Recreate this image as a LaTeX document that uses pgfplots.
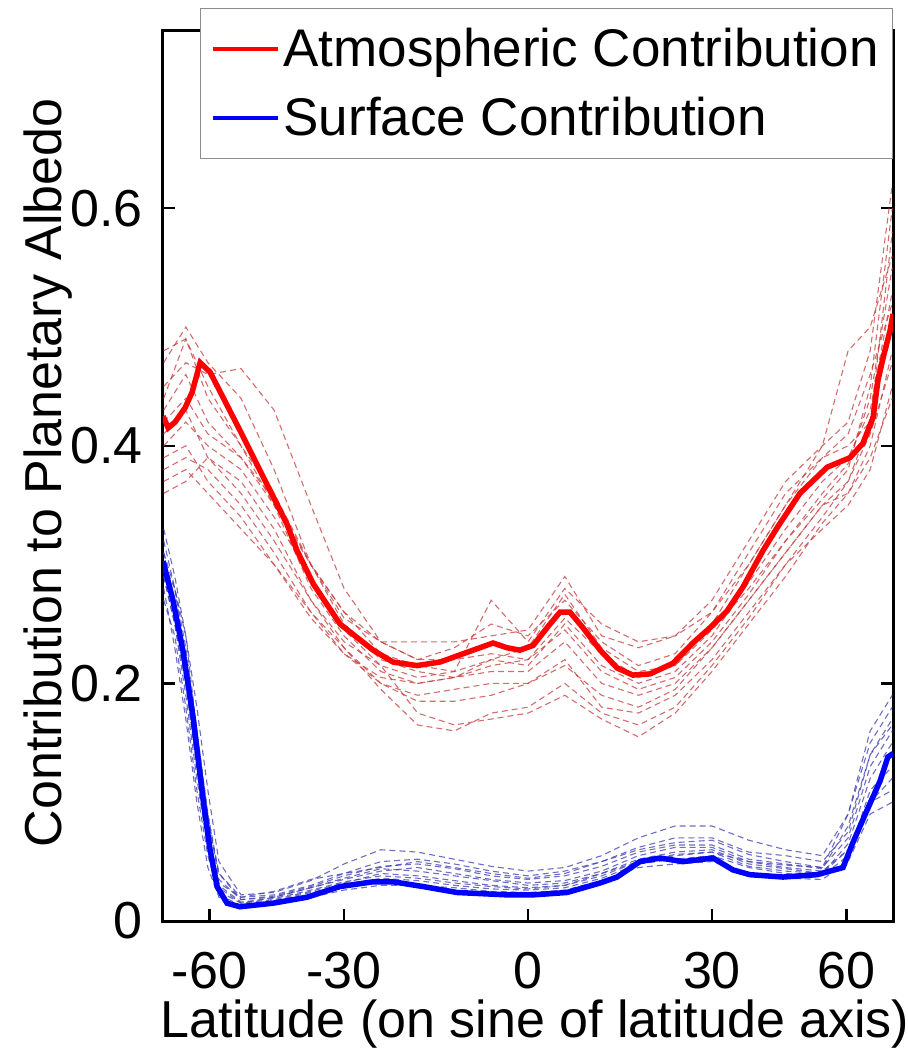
\documentclass[border=0pt]{standalone}
\usepackage{fontspec}
\setmainfont{Liberation Sans}
\usepackage{pgfplots}
\usepackage{pgfplotstable}
\pgfplotsset{compat=1.18}
\definecolor{memred}{RGB}{195,60,60}
\definecolor{memblue}{RGB}{60,60,175}

\pgfplotstableread{
x r1 r2 r3 r4 r5 r6 r7 r8 r9 r10 r11 r12
-0.99 0.47 0.38 0.44 0.40 0.45 0.41 0.36 0.43 0.39 0.42 0.48 0.37
-0.93 0.50 0.39 0.49 0.42 0.47 0.43 0.37 0.46 0.40 0.44 0.49 0.38
-0.87 0.47 0.38 0.45 0.40 0.46 0.39 0.39 0.42 0.37 0.41 0.44 0.36
-0.78 0.44 0.35 0.40 0.38 0.465 0.36 0.37 0.39 0.34 0.39 0.40 0.33
-0.69 0.38 0.31 0.35 0.34 0.43 0.32 0.33 0.35 0.30 0.355 0.36 0.30
-0.59 0.30 0.26 0.28 0.29 0.35 0.27 0.27 0.30 0.255 0.30 0.30 0.26
-0.5 0.255 0.225 0.24 0.245 0.28 0.235 0.23 0.25 0.225 0.26 0.26 0.23
-0.4 0.235 0.20 0.21 0.215 0.235 0.215 0.195 0.22 0.205 0.235 0.225 0.20
-0.3 0.235 0.185 0.20 0.175 0.22 0.205 0.165 0.21 0.20 0.22 0.215 0.19
-0.2 0.235 0.185 0.205 0.165 0.23 0.21 0.16 0.205 0.205 0.22 0.21 0.195
-0.1 0.24 0.19 0.215 0.17 0.25 0.22 0.175 0.21 0.22 0.225 0.27 0.20
0 0.245 0.20 0.22 0.175 0.24 0.215 0.18 0.21 0.23 0.22 0.235 0.20
0.1 0.29 0.22 0.245 0.19 0.27 0.25 0.20 0.235 0.275 0.255 0.28 0.215
0.2 0.24 0.18 0.21 0.17 0.235 0.215 0.175 0.20 0.23 0.225 0.25 0.19
0.3 0.23 0.175 0.195 0.155 0.215 0.20 0.165 0.19 0.21 0.205 0.235 0.18
0.4 0.24 0.19 0.205 0.175 0.225 0.21 0.18 0.20 0.215 0.215 0.24 0.195
0.5 0.27 0.22 0.235 0.21 0.26 0.24 0.215 0.23 0.245 0.25 0.26 0.23
0.6 0.32 0.26 0.275 0.25 0.31 0.285 0.255 0.27 0.28 0.30 0.30 0.27
0.7 0.37 0.30 0.32 0.29 0.36 0.33 0.30 0.31 0.32 0.35 0.35 0.31
0.8 0.40 0.33 0.36 0.335 0.39 0.37 0.34 0.35 0.355 0.39 0.40 0.35
0.87 0.42 0.35 0.385 0.36 0.40 0.39 0.37 0.37 0.38 0.41 0.48 0.36
0.93 0.48 0.38 0.44 0.40 0.42 0.43 0.41 0.42 0.45 0.46 0.50 0.39
0.99 0.62 0.45 0.55 0.48 0.50 0.53 0.47 0.58 0.60 0.52 0.56 0.44
}\redmembers

\pgfplotstableread{
x b1 b2 b3 b4 b5 b6 b7 b8 b9 b10
-0.99 0.30 0.29 0.32 0.28 0.31 0.30 0.27 0.33 0.29 0.31
-0.96 0.28 0.25 0.28 0.23 0.27 0.26 0.24 0.29 0.25 0.28
-0.93 0.24 0.19 0.22 0.17 0.21 0.20 0.18 0.24 0.20 0.23
-0.90 0.18 0.12 0.15 0.10 0.14 0.13 0.11 0.16 0.13 0.16
-0.87 0.11 0.06 0.085 0.045 0.075 0.07 0.055 0.09 0.065 0.09
-0.84 0.05 0.025 0.04 0.02 0.032 0.03 0.022 0.04 0.028 0.035
-0.78 0.022 0.015 0.018 0.012 0.02 0.016 0.013 0.02 0.015 0.018
-0.69 0.024 0.018 0.02 0.015 0.025 0.019 0.017 0.022 0.02 0.021
-0.59 0.034 0.025 0.028 0.02 0.035 0.026 0.024 0.03 0.028 0.029
-0.5 0.048 0.032 0.035 0.026 0.04 0.033 0.03 0.04 0.036 0.038
-0.4 0.06 0.04 0.042 0.03 0.045 0.038 0.036 0.05 0.044 0.046
-0.3 0.058 0.038 0.045 0.03 0.05 0.036 0.034 0.052 0.042 0.048
-0.2 0.052 0.034 0.04 0.028 0.045 0.032 0.03 0.048 0.038 0.044
-0.1 0.046 0.03 0.035 0.025 0.04 0.029 0.027 0.042 0.034 0.038
0 0.042 0.028 0.032 0.024 0.036 0.027 0.026 0.038 0.03 0.035
0.1 0.045 0.03 0.034 0.026 0.04 0.03 0.028 0.042 0.032 0.038
0.2 0.055 0.038 0.042 0.034 0.05 0.04 0.036 0.05 0.04 0.046
0.3 0.07 0.05 0.055 0.045 0.062 0.052 0.048 0.06 0.05 0.058
0.4 0.08 0.055 0.062 0.048 0.07 0.058 0.052 0.066 0.056 0.064
0.5 0.08 0.058 0.062 0.05 0.07 0.06 0.055 0.068 0.058 0.064
0.6 0.068 0.05 0.05 0.04 0.058 0.048 0.045 0.056 0.046 0.052
0.7 0.06 0.045 0.047 0.036 0.055 0.044 0.04 0.05 0.042 0.048
0.8 0.055 0.042 0.045 0.035 0.05 0.04 0.038 0.045 0.04 0.044
0.87 0.09 0.06 0.07 0.05 0.075 0.065 0.055 0.09 0.06 0.08
0.93 0.16 0.10 0.13 0.09 0.14 0.12 0.11 0.15 0.10 0.14
0.99 0.19 0.12 0.16 0.10 0.17 0.15 0.13 0.18 0.11 0.165
}\bluemembers

\begin{document}
\begin{tikzpicture}
\begin{axis}[
  at={(0,0)}, anchor=south west, scale only axis,
  width=365pt, height=445.5pt,
  xmin=-0.992, xmax=0.992, ymin=0, ymax=0.75,
  xtick={-0.866,-0.5,0,0.5,0.866}, xticklabels={-60,-30,0,30,60},
  ytick={0,0.2,0.4,0.6}, yticklabels={0,0.2,0.4,0.6},
  /pgf/number format/assume math mode=true,
  tick align=inside, tick pos=both, major tick length=6pt,
  every tick/.style={black, line width=1.2pt},
  axis line style={line width=1.5pt},
  ticklabel style={font=\fontsize{26}{30}\selectfont},
  xticklabel style={anchor=base, inner sep=0pt, yshift=-33.5pt},
  yticklabel style={anchor=east, inner sep=0pt, xshift=-10pt},
  xlabel={Latitude (on sine of latitude axis)},
  ylabel={Contribution to Planetary Albedo},
  xlabel style={font=\fontsize{26}{30}\selectfont, at={(axis description cs:0.5096,-0.1313)}, anchor=base},
  ylabel style={font=\fontsize{26}{30}\selectfont, at={(axis description cs:-0.1397,0.503)}, anchor=base},
  legend style={at={(axis description cs:0.0507,1.0247)}, anchor=north west,
    draw=black!45, line width=0.6pt, fill=white,
    font=\fontsize{26.5}{30}\selectfont,
    inner xsep=5pt, inner ysep=8pt, row sep=9.5pt,
    nodes={inner sep=2pt}},
  legend cell align=left,
  legend image code/.code={\draw[#1, line width=2pt] (0pt,0pt) -- (32.5pt,0pt);},
]
\pgfplotsinvokeforeach{1,...,12}{
  \addplot[forget plot, memred, opacity=0.75, line width=0.55pt, dash pattern=on 3pt off 2pt] table[x=x, y=r#1] {\redmembers};
}
\pgfplotsinvokeforeach{1,...,10}{
  \addplot[forget plot, memblue, opacity=0.75, line width=0.55pt, dash pattern=on 3pt off 2pt] table[x=x, y=b#1] {\bluemembers};
}
\addplot[red, line width=2.75pt] coordinates {
(-0.992,0.425) (-0.978,0.415) (-0.959,0.420) (-0.932,0.432) (-0.913,0.445)
(-0.891,0.470) (-0.864,0.462) (-0.783,0.413) (-0.728,0.379) (-0.655,0.334)
(-0.628,0.312) (-0.584,0.284) (-0.511,0.250) (-0.421,0.228) (-0.367,0.218)
(-0.302,0.215) (-0.239,0.218) (-0.149,0.228) (-0.095,0.234) (-0.057,0.230)
(-0.022,0.228) (0.014,0.232) (0.060,0.250) (0.087,0.260) (0.114,0.260)
(0.149,0.247) (0.196,0.228) (0.242,0.213) (0.285,0.207) (0.332,0.208)
(0.394,0.217) (0.448,0.234) (0.495,0.247) (0.541,0.261) (0.584,0.281)
(0.639,0.312) (0.677,0.331) (0.739,0.360) (0.813,0.382) (0.875,0.390)
(0.910,0.402) (0.938,0.424) (0.951,0.455) (0.965,0.474) (0.984,0.497)
(0.992,0.511)
};
\addlegendentry{Atmospheric Contribution}
\addplot[blue, line width=2.75pt] coordinates {
(-0.992,0.303) (-0.965,0.270) (-0.938,0.228) (-0.910,0.171) (-0.883,0.102)
(-0.864,0.060) (-0.845,0.029) (-0.818,0.015) (-0.783,0.012) (-0.693,0.015)
(-0.601,0.020) (-0.511,0.029) (-0.421,0.033) (-0.367,0.033) (-0.285,0.029)
(-0.193,0.024) (-0.057,0.022) (0.014,0.022) (0.106,0.024) (0.196,0.032)
(0.242,0.037) (0.304,0.050) (0.359,0.053) (0.421,0.050) (0.503,0.053)
(0.557,0.043) (0.603,0.039) (0.693,0.037) (0.785,0.039) (0.856,0.045)
(0.883,0.066) (0.921,0.093) (0.957,0.118) (0.978,0.138) (0.992,0.141)
};
\addlegendentry{Surface Contribution}
\end{axis}
\pgfresetboundingbox
\path[use as bounding box] (-81.5pt,-64pt) rectangle (372pt,460.5pt);
\end{tikzpicture}
\end{document}
